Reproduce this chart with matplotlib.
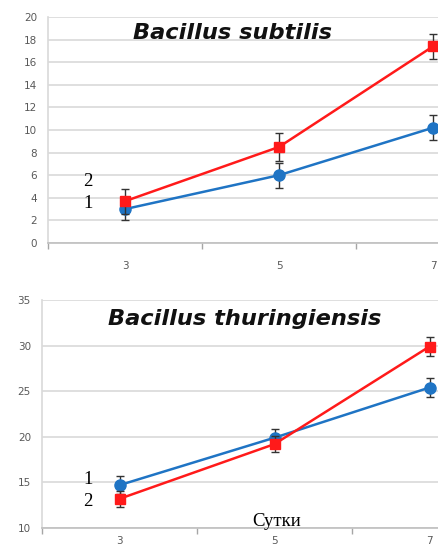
import numpy as np
import matplotlib
matplotlib.use("Agg")
import matplotlib.pyplot as plt

# data
days = ["3", "5", "7"]

subtilis_1 = [3.0, 6.0, 10.2]
subtilis_1_err = [1.0, 1.1, 1.1]
subtilis_2 = [3.7, 8.5, 17.4]
subtilis_2_err = [1.1, 1.2, 1.1]

thur_1 = [14.7, 19.9, 25.4]
thur_1_err = [1.0, 1.0, 1.0]
thur_2 = [13.2, 19.2, 29.9]
thur_2_err = [0.9, 0.9, 1.0]

W, H = 438, 549
fig = plt.figure(figsize=(W / 100, H / 100), dpi=100)
fig.patch.set_facecolor("white")

BLUE = "#1f74c4"
RED = "#ff1a1a"
GRID = "#d9d9d9"
TICK = "#595959"


def px_axes(left, top, right, bottom):
    return fig.add_axes([left / W, 1 - bottom / H, (right - left) / W, (bottom - top) / H])


def panel(ax, s1, e1, s2, e2, ylim, ystep, xright, title, title_xy, xpad):
    x = np.arange(len(days))
    ax.errorbar(x, s1, yerr=e1, color=BLUE, lw=1.8, marker="o", ms=8,
                ecolor="#333333", elinewidth=1.0, capsize=3, capthick=1.0, zorder=3)
    ax.errorbar(x, s2, yerr=e2, color=RED, lw=1.8, marker="s", ms=7.5,
                ecolor="#333333", elinewidth=1.0, capsize=3, capthick=1.0, zorder=4)
    ax.set_xlim(-0.5, xright)
    ax.set_ylim(*ylim)
    ax.set_yticks(np.arange(ylim[0], ylim[1] + 0.1, ystep))
    ax.set_xticks(x)
    ax.set_xticklabels(days)
    ax.set_xticks([-0.5, 0.5, 1.5], minor=True)
    ax.tick_params(axis="x", which="major", length=0, pad=xpad, labelsize=7.5, labelcolor=TICK)
    ax.tick_params(axis="x", which="minor", length=4, color="#a6a6a6", width=1)
    ax.tick_params(axis="y", length=0, pad=8, labelsize=7.5, labelcolor=TICK)
    ax.grid(axis="y", color=GRID, lw=1.2)
    ax.set_axisbelow(True)
    for s in ["top", "right"]:
        ax.spines[s].set_visible(False)
    ax.spines["left"].set_color(GRID)
    ax.spines["left"].set_linewidth(1.2)
    ax.spines["bottom"].set_color("#bfbfbf")
    ax.spines["bottom"].set_linewidth(1.2)
    ax.text(title_xy[0], title_xy[1], title, transform=ax.transAxes, ha="center", va="center",
            fontsize=16.2, fontweight="bold", fontstyle="italic", family="DejaVu Sans",
            color="#111111")


ax1 = px_axes(48, 17, W, 243)
panel(ax1, subtilis_1, subtilis_1_err, subtilis_2, subtilis_2_err,
      (0, 20), 2, (W - 48) / 154 - 0.5, "Bacillus subtilis", (0.472, 0.93), 13)

ax2 = px_axes(42, 300, W, 528)
panel(ax2, thur_1, thur_1_err, thur_2, thur_2_err,
      (10, 35), 5, (W - 42) / 155 - 0.5, "Bacillus thuringiensis", (0.513, 0.915), 6)

serif = dict(family="Liberation Serif", fontsize=13.5, color="black", ha="center", va="center")
fig.text(88 / W, 1 - 181 / H, "2", **serif)
fig.text(88 / W, 1 - 204 / H, "1", **serif)
fig.text(88 / W, 1 - 480 / H, "1", **serif)
fig.text(88 / W, 1 - 501 / H, "2", **serif)
fig.text(277 / W, 1 - 522 / H, "Сутки", **serif)

fig.savefig("out.png", dpi=100)
